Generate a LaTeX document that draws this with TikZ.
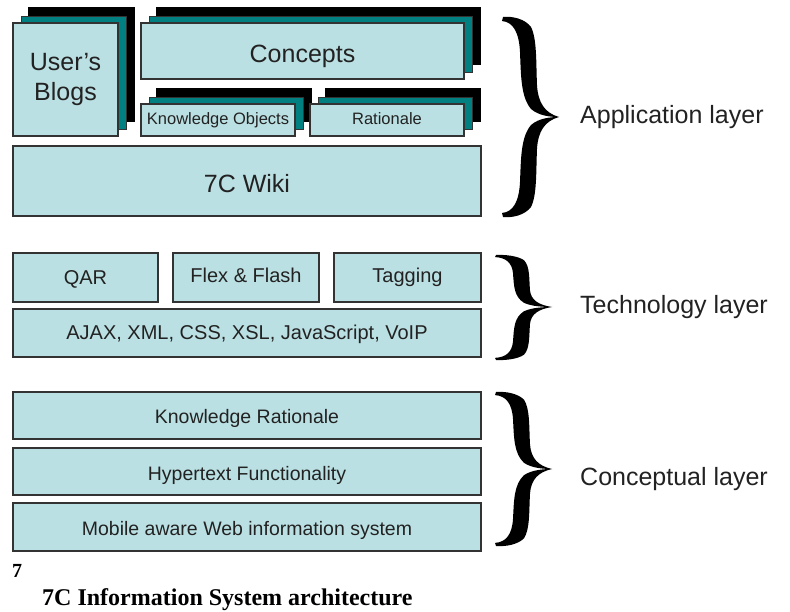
\documentclass[tikz,border=0pt]{standalone}
\usepackage{fontspec}
\setmainfont{Liberation Sans}
\newfontfamily\captionserif{Liberation Serif}
\usetikzlibrary{shadows}

\definecolor{boxfill}{HTML}{BBE0E3}
\definecolor{stackteal}{HTML}{008080}
\definecolor{edgegrey}{HTML}{333333}
\definecolor{ink}{HTML}{222222}

% one half of a calligraphic curly brace, tip at the origin, end at y=-1
\def\halfbrace{(0,0) .. controls (-14,-0.04) and (-21,-0.14) .. (-22,-0.32)
  .. controls (-23,-0.55) and (-22,-0.78) .. (-28,-0.9)
  .. controls (-34,-0.98) and (-46,-1.01) .. (-56,-1)
  -- (-57,-0.96)
  .. controls (-46,-0.95) and (-40,-0.85) .. (-39,-0.65)
  .. controls (-38,-0.4) and (-38,-0.2) .. (-28,-0.08)
  .. controls (-20,-0.01) and (-8,0) .. (0,0) -- cycle}
% \calbrace{tip x}{tip y}{upper height}{lower height}
\newcommand\calbrace[4]{%
  \begin{scope}[shift={(#1,#2)}, yscale=#3]\fill[black] \halfbrace;\end{scope}
  \begin{scope}[shift={(#1,#2)}, yscale=-#4]\fill[black] \halfbrace;\end{scope}}

\tikzset{
  layerbox/.style={draw=edgegrey, line width=1.1pt, fill=boxfill, text=ink,
    inner sep=0pt, align=center},
  % baseline sits #1/2 below the box centre
  baseline drop/.style={text height=#1, text depth=0pt},
  stacked/.style={
    general shadow={shadow xshift=16pt, shadow yshift=15pt, fill=black, draw=black},
    general shadow={shadow xshift=8pt, shadow yshift=7pt, fill=stackteal, draw=edgegrey, line width=0.8pt}},
  layerlabel/.style={anchor=base west, inner sep=0pt, text=ink,
    font=\fontsize{25}{30}\selectfont},
  bigtext/.style={font=\fontsize{25}{30}\selectfont},
  midtext/.style={font=\fontsize{20}{24}\selectfont},
  conctext/.style={font=\fontsize{19.5}{23}\selectfont},
  smalltext/.style={font=\fontsize{16.5}{20}\selectfont},
}

\begin{document}
\begin{tikzpicture}[x=1pt, y=-1pt]
\useasboundingbox (0,0) rectangle (790,612);

% application layer
\node[layerbox, stacked, bigtext, minimum width=105, minimum height=113] (blogs) at (65.5,79.5) {User's\\Blogs};
\node[layerbox, stacked, bigtext, baseline drop=24pt, minimum width=323, minimum height=56] (concepts) at (302.5,51) {Concepts};
\node[layerbox, stacked, smalltext, baseline drop=10pt, minimum width=154, minimum height=32] (kobj) at (218,120) {Knowledge Objects};
\node[layerbox, stacked, smalltext, baseline drop=10pt, minimum width=154, minimum height=32] (rat) at (387,120) {Rationale};
\node[layerbox, bigtext, baseline drop=24pt, minimum width=468, minimum height=70] (wiki) at (247,181) {7C Wiki};

% technology layer
\node[layerbox, midtext, baseline drop=15pt, minimum width=145, minimum height=49] (qar) at (85.5,277.5) {QAR};
\node[layerbox, midtext, baseline drop=11pt, minimum width=146, minimum height=49] (flex) at (246,277.5) {Flex \& Flash};
\node[layerbox, midtext, baseline drop=11pt, minimum width=147, minimum height=49] (tag) at (407.5,277.5) {Tagging};
\node[layerbox, midtext, baseline drop=14pt, minimum width=468, minimum height=48] (ajax) at (247,333) {AJAX, XML, CSS, XSL, JavaScript, VoIP};

% conceptual layer
\node[layerbox, conctext, baseline drop=15pt, minimum width=468, minimum height=47] (krat) at (247,415.5) {Knowledge Rationale};
\node[layerbox, conctext, baseline drop=17pt, minimum width=468, minimum height=47] (hyper) at (247,471.5) {Hypertext Functionality};
\node[layerbox, conctext, baseline drop=16pt, minimum width=468, minimum height=48] (mobile) at (247,527) {Mobile aware Web information system};

% braces and layer names
\calbrace{559}{117}{100}{100}
\calbrace{552}{307}{52}{53}
\calbrace{552}{469}{77}{77}
\node[layerlabel] (applab) at (580,124) {Application layer};
\node[layerlabel] (techlab) at (580,314) {Technology layer};
\node[layerlabel] (conclab) at (580,485) {Conceptual layer};

% caption
\node[anchor=base west, inner sep=0pt, font=\captionserif\bfseries\fontsize{20}{24}\selectfont] (num) at (12,577) {7};
\node[anchor=base west, inner sep=0pt, font=\captionserif\bfseries\fontsize{24}{28}\selectfont] (caption) at (42,605) {7C Information System architecture};
\end{tikzpicture}
\end{document}
